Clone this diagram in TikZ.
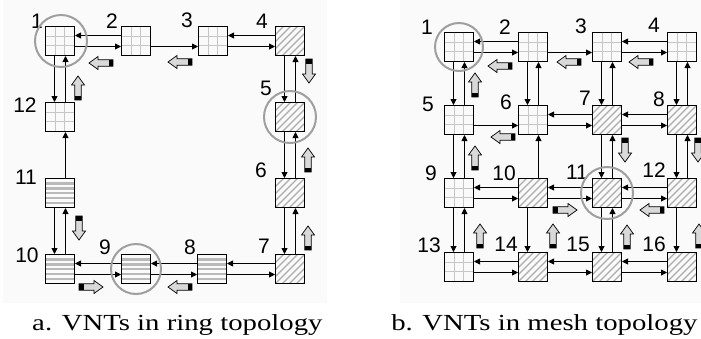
\documentclass[tikz,border=0pt]{standalone}
\usepackage{fontspec}
\setmainfont{Liberation Serif}
\newfontfamily\lblfont{Liberation Sans}
\usetikzlibrary{arrows.meta}
\tikzset{
  box/.style={draw, line width=1bp, minimum size=29bp, inner sep=0pt},
  gridbox/.style={box, path picture={
    \foreach \f in {9.67,19.33}{
      \draw[gray!45, line width=0.8bp] ([xshift=\f bp]path picture bounding box.north west) -- ([xshift=\f bp]path picture bounding box.south west);
      \draw[gray!45, line width=0.8bp] ([yshift=-\f bp]path picture bounding box.north west) -- ([yshift=-\f bp]path picture bounding box.north east);
    }}},
  stripebox/.style={box, path picture={
    \foreach \k in {1,...,5}{
      \draw[gray!55, line width=2.4bp] ([yshift=-\k*4.9bp]path picture bounding box.north west) -- ([yshift=-\k*4.9bp]path picture bounding box.north east);
    }}},
  hatchbox/.style={box, path picture={
    \foreach \k in {-5,...,5}{
      \draw[gray!65, line width=1.1bp] ([xshift=\k*7bp]path picture bounding box.south west) -- ++(36bp,36bp);
    }}},
  conn/.style={-{Triangle[length=6bp,width=6bp]}, line width=0.9bp},
  num/.style={font=\lblfont\fontsize{21bp}{21bp}\selectfont, inner sep=0pt},
  ring/.style={draw=gray!75, line width=2bp},
  captext/.style={font=\fontsize{23bp}{23bp}\selectfont, inner sep=0pt, anchor=base west, xscale=1.25, transform shape},
  panel/.style={fill=black!2, draw=none}
}
\newcommand\fatarr[3]{%
  \begin{scope}[shift={(#1,#2)},rotate=#3]
    \draw[fill=gray!30, line width=0.7bp] (-12,-3.3) -- (3,-3.3) -- (3,-6.5) -- (12,0) -- (3,6.5) -- (3,3.3) -- (-12,3.3) -- cycle;
    \fill (-12,-3.3) rectangle (-7.5,3.3);
  \end{scope}}
\newcommand\hpair[2]{%
  \draw[conn] ([yshift=5.5bp]#2.west) -- ([yshift=5.5bp]#1.east);
  \draw[conn] ([yshift=-5.5bp]#1.east) -- ([yshift=-5.5bp]#2.west);}
\newcommand\hright[2]{%
  \draw[conn] ([yshift=-5.5bp]#1.east) -- ([yshift=-5.5bp]#2.west);}
\newcommand\vpair[2]{%
  \draw[conn] ([xshift=-5.5bp]#1.south) -- ([xshift=-5.5bp]#2.north);
  \draw[conn] ([xshift=5.5bp]#2.north) -- ([xshift=5.5bp]#1.south);}
\newcommand\vup[2]{%
  \draw[conn] ([xshift=5.5bp]#2.north) -- ([xshift=5.5bp]#1.south);}
\newcommand\vdown[2]{%
  \draw[conn] ([xshift=-5.5bp]#1.south) -- ([xshift=-5.5bp]#2.north);}
\begin{document}
\begin{tikzpicture}[x=1bp,y=-1bp]
\useasboundingbox[fill=white] (0,0) rectangle (701,338);
\path[panel] (3,0) rectangle (327,303);
\path[panel] (400,0) rectangle (701,303);
% ---------- ring ----------
\node[gridbox]   (L1)  at (60,41)  {};
\node[gridbox]   (L2)  at (136,41) {};
\node[gridbox]   (L3)  at (213,41) {};
\node[hatchbox]  (L4)  at (290,41) {};
\node[hatchbox]  (L5)  at (290,117) {};
\node[hatchbox]  (L6)  at (290,193) {};
\node[hatchbox]  (L7)  at (290,269) {};
\node[stripebox] (L8)  at (212,269) {};
\node[stripebox] (L9)  at (136,269) {};
\node[stripebox] (L10) at (60,269) {};
\node[stripebox] (L11) at (60,193) {};
\node[gridbox]   (L12) at (60,117) {};
\node[num] (l1)  at (37,21)  {1};
\node[num] (l2)  at (112,21) {2};
\node[num] (l3)  at (187,20) {3};
\node[num] (l4)  at (262,21) {4};
\node[num] (l5)  at (266,88) {5};
\node[num] (l6)  at (261,170) {6};
\node[num] (l7)  at (264,246) {7};
\node[num] (l8)  at (190,247) {8};
\node[num] (l9)  at (105,247) {9};
\node[num] (l10) at (27,255) {10};
\node[num] (l11) at (26,177) {11};
\node[num] (l12) at (25,105) {12};
\hpair{L1}{L2}
\hright{L2}{L3}
\hpair{L3}{L4}
\vpair{L4}{L5}
\vpair{L5}{L6}
\vpair{L6}{L7}
\hpair{L8}{L7}
\hpair{L9}{L8}
\hpair{L10}{L9}
\vpair{L11}{L10}
\vup{L12}{L11}
\vpair{L1}{L12}
\draw[ring] (L1.center) ++(1,0) circle[radius=26];
\draw[ring] (L5.center) circle[radius=26];
\draw[ring] (L9.center) circle[radius=25];
\fatarr{101}{63}{180}
\fatarr{180}{62}{180}
\fatarr{78}{88}{90}
\fatarr{309}{71}{270}
\fatarr{308}{160}{90}
\fatarr{308}{238}{90}
\fatarr{180}{287}{180}
\fatarr{91}{287}{0}
\fatarr{79}{228}{270}
% ---------- mesh ----------
\node[gridbox]  (M1)  at (459,47)  {};
\node[gridbox]  (M2)  at (533,47)  {};
\node[gridbox]  (M3)  at (607,47)  {};
\node[gridbox]  (M4)  at (682,47)  {};
\node[gridbox]  (M5)  at (459,120) {};
\node[gridbox]  (M6)  at (533,120) {};
\node[hatchbox] (M7)  at (607,120) {};
\node[hatchbox] (M8)  at (682,120) {};
\node[gridbox]  (M9)  at (459,193) {};
\node[hatchbox] (M10) at (533,193) {};
\node[hatchbox] (M11) at (607,193) {};
\node[hatchbox] (M12) at (682,193) {};
\node[gridbox]  (M13) at (459,267) {};
\node[hatchbox] (M14) at (533,267) {};
\node[hatchbox] (M15) at (607,267) {};
\node[hatchbox] (M16) at (682,267) {};
\node[num] (m1)  at (427,27)  {1};
\node[num] (m2)  at (505,27)  {2};
\node[num] (m3)  at (581,26)  {3};
\node[num] (m4)  at (654,25)  {4};
\node[num] (m5)  at (428,104) {5};
\node[num] (m6)  at (506,102) {6};
\node[num] (m7)  at (585,98)  {7};
\node[num] (m8)  at (659,99)  {8};
\node[num] (m9)  at (431,173) {9};
\node[num] (m10) at (504,173) {10};
\node[num] (m11) at (577,172) {11};
\node[num] (m12) at (654,170) {12};
\node[num] (m13) at (429,245) {13};
\node[num] (m14) at (506,244) {14};
\node[num] (m15) at (578,244) {15};
\node[num] (m16) at (654,244) {16};
\hpair{M1}{M2}
\hright{M2}{M3}
\hpair{M3}{M4}
\vpair{M1}{M5}
\vpair{M2}{M6}
\vpair{M3}{M7}
\vpair{M4}{M8}
\hright{M5}{M6}
\hpair{M6}{M7}
\hpair{M7}{M8}
\vpair{M5}{M9}
\vup{M6}{M10}
\vpair{M7}{M11}
\vpair{M8}{M12}
\hpair{M9}{M10}
\hpair{M10}{M11}
\hpair{M11}{M12}
\vpair{M9}{M13}
\vdown{M10}{M14}
\vpair{M11}{M15}
\vdown{M12}{M16}
\hpair{M13}{M14}
\hpair{M14}{M15}
\hpair{M15}{M16}
\draw[ring] (M1.center) circle[radius=24];
\draw[ring] (M11.center) circle[radius=26];
\fatarr{500}{66}{180}
\fatarr{569}{62}{180}
\fatarr{641}{62}{180}
\fatarr{475}{85}{90}
\fatarr{503}{137}{180}
\fatarr{625}{150}{270}
\fatarr{698}{150}{270}
\fatarr{475}{158}{90}
\fatarr{565}{210}{0}
\fatarr{652}{210}{180}
\fatarr{480}{236}{90}
\fatarr{553}{236}{90}
\fatarr{627}{237}{90}
\fatarr{699}{236}{90}
% ---------- captions ----------
\node[captext] (capa) at (32,330) {a. VNTs in ring topology};
\node[captext] (capb) at (391,330) {b. VNTs in mesh topology};
\end{tikzpicture}
\end{document}
